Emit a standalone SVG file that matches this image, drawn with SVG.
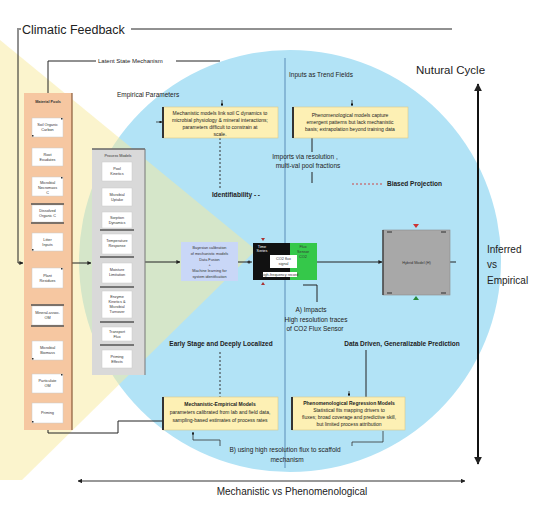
<svg xmlns="http://www.w3.org/2000/svg" width="536" height="510" viewBox="0 0 536 510">
<defs>
<marker id="ah" viewBox="0 0 10 10" refX="9" refY="5" markerWidth="4" markerHeight="4" orient="auto-start-reverse"><path d="M0,0L10,5L0,10z" fill="#222"/></marker>
<marker id="ahb" viewBox="0 0 10 10" refX="9" refY="5" markerWidth="3.5" markerHeight="3.5" orient="auto-start-reverse"><path d="M0,0L10,5L0,10z" fill="#111"/></marker>
</defs>
<style>
.t{font-family:"Liberation Sans",Arial,sans-serif;fill:#222}
.lbl{font-size:6.5px}
.b{font-weight:bold}
.m{text-anchor:middle}
.bx{font-size:5px;text-anchor:middle}
.ctx{font-size:3.8px;text-anchor:middle;font-family:"Liberation Sans",Arial,sans-serif;fill:#333}
.card{fill:#fff;stroke:#c9c9c9;stroke-width:0.5}
.ybox{fill:#fdf0b4;stroke:#d9c98a;stroke-width:0.6}
.edge{stroke:#333;stroke-width:2}
.ln{stroke:#222;stroke-width:1;fill:none}
.thin{stroke:#333;stroke-width:0.8;fill:none}
.dash{stroke:#333;stroke-width:1;fill:none;stroke-dasharray:2 2}
.bar{stroke:#555;stroke-width:1.5}
.dot{fill:#333}
</style>
<rect width="536" height="510" fill="#fff"/>
<g id="background">
<circle cx="290" cy="261" r="211" fill="#b2e3f6"/>
<polygon points="0,40 256,250 22,480 0,480" fill="#f8ea9c" opacity="0.5"/>
<line x1="285" y1="58" x2="285" y2="468" stroke="#5b8db8" stroke-width="1"/>
</g>
<g id="connectors">
<path class="ln" d="M17,29 H21 M131,29 H452"/>
<path class="ln" d="M18,30 V263 H23" marker-end="url(#ah)"/>
<path class="ln" d="M48,93 V61 H96 M176,61 H220"/>
<path class="thin" d="M222,100 V106" marker-end="url(#ahb)"/>
<path class="thin" d="M156,122 H162" marker-end="url(#ahb)"/>
<path class="dash" d="M220,138 V190"/>
<path class="thin" d="M352,100 V106" marker-end="url(#ahb)"/>
<path class="ln" d="M312,138 V152 M312,172 V183"/>
<path d="M352,184 H384" stroke="#c44" stroke-width="1" stroke-dasharray="2 2"/>
<path class="ln" d="M72,263 H91" marker-end="url(#ah)"/>
<path class="ln" d="M145,262 H180" marker-end="url(#ah)"/>
<path class="ln" d="M238,262 H252"/>
<circle cx="249" cy="262" r="1.6" fill="#333"/>
<path class="ln" d="M317,262 H382" marker-end="url(#ah)"/>
<path class="ln" d="M450,262 H456"/>
<path class="ln" d="M303,285 H317 V302"/>
<path d="M478,84 V464" stroke="#111" stroke-width="2" marker-start="url(#ah)" marker-end="url(#ah)"/>
<path d="M78,481 H465" stroke="#333" stroke-width="1.2" marker-start="url(#ah)" marker-end="url(#ah)"/>
<path class="dash" d="M220,352 V397"/>
<path class="ln" d="M366,350 V397"/>
<path class="thin" d="M349,391 V396" marker-end="url(#ahb)"/>
<path class="ln" d="M48,430 V433 H118 V421 H163"/>
<path class="thin" d="M220,446 V440 H193 V432" marker-end="url(#ahb)"/>
<path class="thin" d="M352,446 V442 H383 V431"/>
</g>
<g id="labels">
<text class="t" x="22" y="34" font-size="12.5" fill="#333">Climatic Feedback</text>
<text class="t" x="98" y="63" font-size="6">Latent State Mechanism</text>
<text class="t lbl" x="117" y="97">Empirical Parameters</text>
<text class="t lbl" x="289" y="77">Inputs as Trend Fields</text>
<text class="t lbl b" x="212" y="197">Identifiability - -</text>
<text class="t lbl m" x="305" y="159">Imports via resolution ,</text>
<text class="t lbl m" x="308" y="168">multi-val pool fractions</text>
<text class="t lbl b" x="387" y="186">Biased Projection</text>
<text class="t" x="416" y="74" font-size="11.5" fill="#333">Nutural Cycle</text>
<text class="t" x="487" y="253" font-size="10" fill="#444">Inferred</text>
<text class="t" x="487" y="268" font-size="10" fill="#444">vs</text>
<text class="t" x="487" y="284" font-size="10" fill="#444">Empirical</text>
<text class="t lbl m" x="311" y="312">A) Impacts</text>
<text class="t lbl m" x="316" y="322">High resolution traces</text>
<text class="t lbl m" x="315" y="331">of CO2 Flux Sensor</text>
<text class="t lbl b m" x="221" y="346">Early Stage and Deeply Localized</text>
<text class="t lbl b m" x="402" y="346">Data Driven, Generalizable Prediction</text>
<text class="t lbl m" x="285" y="452">B) using high resolution flux to scaffold</text>
<text class="t lbl m" x="287" y="462">mechanism</text>
<text class="t m" x="292" y="495" font-size="10" fill="#333">Mechanistic vs Phenomenological</text>
</g>
<g id="material-pools">
<rect x="24" y="93" width="48" height="337" fill="#f6c7a1"/>
<line x1="72" y1="93" x2="72" y2="430" stroke="#8a5a3a" stroke-width="1.2"/>
<text class="ctx" x="48" y="103" font-weight="bold" font-size="4.5">Material Pools</text>
<rect class="card" x="32" y="118" width="31" height="19"/><text class="ctx" x="47.5" y="126">Soil Organic</text><text class="ctx" x="47.5" y="131">Carbon</text>
<rect class="card" x="32" y="148" width="31" height="18"/><text class="ctx" x="47.5" y="156">Root</text><text class="ctx" x="47.5" y="161">Exudates</text>
<rect class="card" x="32" y="177" width="31" height="19"/><text class="ctx" x="47.5" y="184">Microbial</text><text class="ctx" x="47.5" y="189">Necromass</text><text class="ctx" x="47.5" y="194">C</text>
<rect class="card" x="32" y="205" width="31" height="17"/><text class="ctx" x="47.5" y="212">Dissolved</text><text class="ctx" x="47.5" y="217">Organic C</text>
<line class="bar" x1="31" y1="204" x2="64" y2="204"/><line class="bar" x1="31" y1="223" x2="64" y2="223"/>
<rect class="card" x="32" y="233" width="31" height="18"/><text class="ctx" x="47.5" y="241">Litter</text><text class="ctx" x="47.5" y="246">Inputs</text>
<rect class="card" x="32" y="268" width="31" height="20"/><text class="ctx" x="47.5" y="277">Plant</text><text class="ctx" x="47.5" y="282">Residues</text>
<rect class="card" x="32" y="306" width="31" height="19"/><text class="ctx" x="47.5" y="314">Mineral-assoc.</text><text class="ctx" x="47.5" y="319">OM</text>
<line class="bar" x1="31" y1="305" x2="64" y2="305"/><line class="bar" x1="31" y1="326" x2="64" y2="326"/>
<rect class="card" x="32" y="341" width="31" height="19"/><text class="ctx" x="47.5" y="349">Microbial</text><text class="ctx" x="47.5" y="354">Biomass</text>
<rect class="card" x="32" y="374" width="31" height="19"/><text class="ctx" x="47.5" y="382">Particulate</text><text class="ctx" x="47.5" y="387">OM</text>
<rect class="card" x="32" y="403" width="31" height="20"/><text class="ctx" x="47.5" y="414">Priming</text>
<g class="dot"><rect x="61" y="118" width="1.5" height="1.5"/><rect x="32" y="135" width="1.5" height="1.5"/><rect x="61" y="177" width="1.5" height="1.5"/><rect x="32" y="249" width="1.5" height="1.5"/><rect x="61" y="268" width="1.5" height="1.5"/><rect x="32" y="358" width="1.5" height="1.5"/><rect x="61" y="374" width="1.5" height="1.5"/><rect x="32" y="421" width="1.5" height="1.5"/></g>
</g>
<g id="process-models">
<rect x="92" y="149" width="53" height="226" fill="#d9d9d9"/>
<line x1="92" y1="149" x2="145" y2="149" stroke="#666" stroke-width="1.5"/>
<line x1="145" y1="149" x2="145" y2="375" stroke="#777" stroke-width="1"/>
<text class="ctx" x="118" y="157">Process Models</text>
<rect class="card" x="102" y="162" width="30" height="19"/><text class="ctx" x="117" y="170">Pool</text><text class="ctx" x="117" y="175">Kinetics</text>
<rect class="card" x="102" y="188" width="30" height="18"/><text class="ctx" x="117" y="196">Microbial</text><text class="ctx" x="117" y="201">Uptake</text>
<rect class="card" x="102" y="212" width="30" height="16"/><text class="ctx" x="117" y="219">Sorption</text><text class="ctx" x="117" y="224">Dynamics</text>
<line class="bar" x1="100" y1="230" x2="134" y2="230"/>
<rect class="card" x="102" y="234" width="30" height="20"/><text class="ctx" x="117" y="242">Temperature</text><text class="ctx" x="117" y="247">Response</text>
<line class="bar" x1="100" y1="257" x2="134" y2="257"/>
<rect class="card" x="102" y="263" width="30" height="20"/><text class="ctx" x="117" y="271">Moisture</text><text class="ctx" x="117" y="276">Limitation</text>
<line class="bar" x1="100" y1="287" x2="134" y2="287"/>
<rect class="card" x="102" y="291" width="30" height="27"/><text class="ctx" x="117" y="298">Enzyme</text><text class="ctx" x="117" y="303">Kinetics &amp;</text><text class="ctx" x="117" y="308">Microbial</text><text class="ctx" x="117" y="313">Turnover</text>
<line class="bar" x1="100" y1="322" x2="134" y2="322"/>
<rect class="card" x="102" y="327" width="30" height="14"/><text class="ctx" x="117" y="333">Transport</text><text class="ctx" x="117" y="338">Flux</text>
<line class="bar" x1="100" y1="345" x2="134" y2="345"/>
<rect class="card" x="102" y="350" width="30" height="18"/><text class="ctx" x="117" y="358">Priming</text><text class="ctx" x="117" y="363">Effects</text>
</g>
<g id="bayesian-box">
<rect x="181" y="242" width="57" height="39" fill="#c9d7f7"/>
<text class="ctx" x="209.5" y="249">Bayesian calibration</text>
<text class="ctx" x="209.5" y="255">of mechanistic models</text>
<text class="ctx" x="209.5" y="261">Data Fusion</text>
<text class="ctx" x="209.5" y="266">+</text>
<text class="ctx" x="209.5" y="272">Machine learning for</text>
<text class="ctx" x="209.5" y="278">system identification</text>
</g>
<g id="sensor-box">
<rect x="253" y="243" width="37" height="37" fill="#111"/>
<rect x="290" y="243" width="27" height="37" fill="#35c84a"/>
<rect x="270" y="255" width="27" height="13" fill="#fff"/>
<rect x="263" y="272" width="34" height="5" fill="#fff"/>
<text class="ctx" x="262" y="248" style="fill:#fff">Time</text>
<text class="ctx" x="262" y="252" style="fill:#fff">Series</text>
<text class="ctx" x="303" y="248">Flux</text>
<text class="ctx" x="303" y="253">Sensor</text>
<text class="ctx" x="303" y="258">CO2</text>
<text class="ctx" x="283.5" y="260">CO2 flux</text>
<text class="ctx" x="283.5" y="265">signal</text>
<text class="ctx" x="280" y="276" font-size="3.5">high-frequency record</text>
<path d="M261,238 L265,238 L263,241z" fill="#a33"/>
<path d="M261,285 L265,285 L263,282z" fill="#a33"/>
</g>
<g id="hybrid-box">
<rect x="383" y="230" width="67" height="65" fill="#a8a8a8" stroke="#8a8a8a" stroke-width="0.6"/>
<line x1="383" y1="230" x2="383" y2="295" stroke="#444" stroke-width="1.5"/>
<text class="ctx" x="416.5" y="264" font-size="4.5">Hybrid Model (H)</text>
<path d="M413,224 L419,224 L416,228z" fill="#c33"/>
<path d="M413,300 L419,300 L416,296z" fill="#2a8a3a"/>
<g stroke="#444" stroke-width="1.2"><line x1="387" y1="232" x2="392" y2="232"/><line x1="441" y1="232" x2="446" y2="232"/><line x1="387" y1="293" x2="392" y2="293"/><line x1="441" y1="293" x2="446" y2="293"/></g>
</g>
<g id="box-mechanistic">
<rect class="ybox" x="163" y="107" width="115" height="31"/>
<line class="edge" x1="163" y1="107" x2="163" y2="138"/>
<text class="t bx" x="220" y="115">Mechanistic models link soil C dynamics to</text>
<text class="t bx" x="220" y="122">microbial physiology &amp; mineral interactions;</text>
<text class="t bx" x="220" y="129">parameters difficult to constrain at</text>
<text class="t bx" x="220" y="136">scale.</text>
</g>
<g id="box-phenomenological">
<rect class="ybox" x="293" y="107" width="115" height="31"/>
<line class="edge" x1="293" y1="107" x2="293" y2="138"/>
<text class="t bx" x="350" y="117">Phenomenological models capture</text>
<text class="t bx" x="350" y="124">emergent patterns but lack mechanistic</text>
<text class="t bx" x="350" y="131">basis; extrapolation beyond training data</text>
</g>
<g id="box-mech-empirical">
<rect class="ybox" x="163" y="397" width="115" height="33"/>
<line class="edge" x1="163" y1="397" x2="163" y2="430"/>
<text class="t bx b" x="220" y="406">Mechanistic-Empirical Models</text>
<text class="t bx" x="220" y="414">parameters calibrated from lab and field data,</text>
<text class="t bx" x="220" y="422">sampling-based estimates of process rates</text>
</g>
<g id="box-regression">
<rect class="ybox" x="292" y="397" width="113" height="33"/>
<line class="edge" x1="292" y1="397" x2="292" y2="430"/>
<text class="t bx b" x="349" y="405">Phenomenological Regression Models</text>
<text class="t bx" x="349" y="412">Statistical fits mapping drivers to</text>
<text class="t bx" x="349" y="419">fluxes; broad coverage and predictive skill,</text>
<text class="t bx" x="349" y="426">but limited process attribution</text>
</g>
</svg>
